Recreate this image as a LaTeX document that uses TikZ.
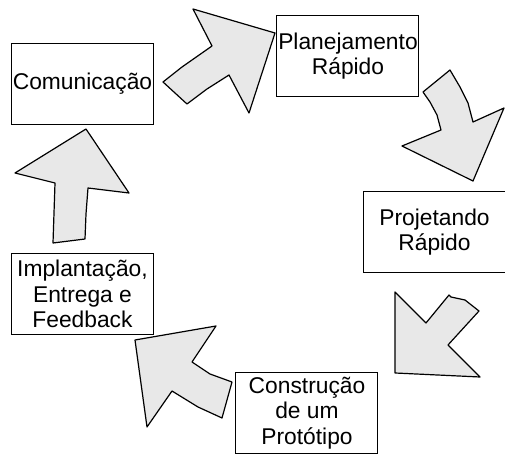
\documentclass[tikz,border=0pt]{standalone}
\usepackage{fontspec}
\setmainfont{Liberation Sans}
\usetikzlibrary{positioning}

\begin{document}
\begin{tikzpicture}[
    x=0.5pt, y=-0.5pt,
    stage/.style={rectangle, draw, line width=0.5pt, inner sep=0pt, align=center,
        minimum width=71pt, minimum height=40.5pt,
        font=\fontsize{11.4}{12.6}\selectfont},
    blockarrow/.style={draw, fill=gray!18, line width=0.6pt, line join=round}
]
\useasboundingbox (0,0) rectangle (505,454);

% Stages
\node[stage] (com) at (82.5,84) {Comunicação};
\node[stage] (plan) at (348,56.5) {Planejamento\\Rápido};
\node[stage] (proj) at (434.5,232) {Projetando\\Rápido};
\node[stage] (cons) at (307,413) {Construção\\de um\\Protótipo};
\node[stage] (impl) at (82.5,294) {Implantação,\\Entrega e\\Feedback};

% Block arrows
\draw[blockarrow] (163,82) -- (187,104) -- (207,89) -- (229,75) -- (249,113)
    -- (275,33) -- (193,9) -- (212,46) -- (182,67) -- cycle;
\draw[blockarrow] (450,70) -- (423,92) -- (430,102) -- (437,115) -- (441,130)
    -- (402,146) -- (473,181) -- (504,108) -- (473,122) -- (468,103)
    -- (460,87) -- cycle;
\draw[blockarrow] (395,292) -- (426,323) -- (449,295) -- (451,297) -- (465,300)
    -- (479,311) -- (448,345) -- (480,377) -- (395,373) -- cycle;
\draw[blockarrow] (135,340) -- (147,427) -- (172,391) -- (198,407) -- (222,418)
    -- (232,382) -- (210,374) -- (192,362) -- (216,326) -- cycle;
\draw[blockarrow] (86,129) -- (129,193) -- (88,188) -- (86,214) -- (85,239)
    -- (53,243) -- (54,213) -- (55,183) -- (15,173) -- cycle;
\end{tikzpicture}
\end{document}
